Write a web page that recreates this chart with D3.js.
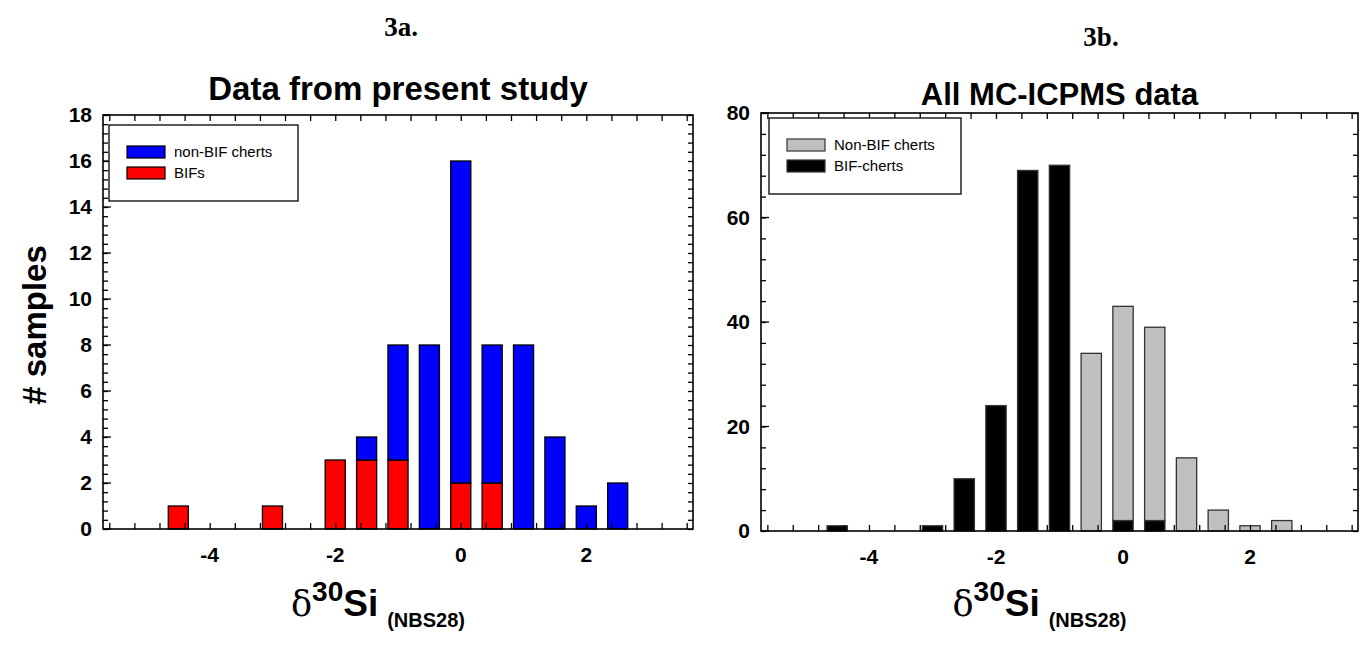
<!DOCTYPE html>
<html>
<head>
<meta charset="utf-8">
<script src="https://cdn.jsdelivr.net/npm/d3@7"></script>
<style>
	body { margin: 0; background: #fff; }
	text { font-family: "Liberation Sans", Arial, sans-serif; }
</style>
</head>
<body>
<script>
// bin centres (per mil) shared by both histograms
var binCenters = [-4.5, -3, -2.5, -2, -1.5, -1, -0.5, 0, 0.5, 1, 1.5, 2, 2.5];

// 3a - present study
var bifs = [1, 1, 0, 3, 3, 3, 0, 2, 2, 0, 0, 0, 0];
var nonBifCherts = [0, 0, 0, 0, 1, 5, 8, 14, 6, 8, 4, 1, 2];

// 3b - all MC-ICPMS data
var bifCherts = [1, 1, 10, 24, 69, 70, 0, 2, 2, 0, 0, 0, 0];
var nonBifChertsAll = [0, 0, 0, 0, 0, 0, 34, 41, 37, 14, 4, 1, 2];

var xTickLabels = [-4, -2, 0, 2];
var xDomain = [-5.7, 3.7];

(function() {

	var width = 1372;
	var height = 660;
	var barW = 0.32;

	var svg = d3.select('body')
		.append('svg')
			.attr('width', width)
			.attr('height', height);

	function panel(opt) {

		var x = d3.scaleLinear().domain(xDomain).range([opt.left, opt.right]);
		var y = d3.scaleLinear().domain([0, opt.yMax]).range([opt.bottom, opt.top]);

		var rows = binCenters.map(function(c, i) {
			return { c: c, lower: opt.lower[i], upper: opt.upper[i] };
		});
		var stacked = d3.stack().keys(['lower', 'upper'])(rows);

		var g = svg.append('g');

		stacked.forEach(function(layer, k) {
			g.selectAll(null)
				.data(layer.filter(function(d) { return d[1] > d[0]; }))
				.enter()
				.append('rect')
					.attr('x', function(d) { return x(d.data.c - barW / 2); })
					.attr('y', function(d) { return y(d[1]); })
					.attr('width', function(d) { return x(d.data.c + barW / 2) - x(d.data.c - barW / 2); })
					.attr('height', function(d) { return y(d[0]) - y(d[1]); })
					.style('fill', opt.colors[k])
					.style('stroke', opt.stroke)
					.style('stroke-width', 1.3);
		});

		// ticks, all pointing inward
		var xMinor = d3.range(-5.6, 3.61, 0.4);
		var yMinor = d3.range(0, opt.yMax + 0.001, opt.yMinor);

		var axB = g.append('g').attr('transform', 'translate(0,' + opt.bottom + ')')
			.call(d3.axisBottom(x).tickValues(xMinor).tickSize(-6).tickFormat(''));
		var axT = g.append('g').attr('transform', 'translate(0,' + opt.top + ')')
			.call(d3.axisTop(x).tickValues(xMinor).tickSize(-6).tickFormat(''));
		var axL = g.append('g').attr('transform', 'translate(' + opt.left + ',0)')
			.call(d3.axisLeft(y).tickValues(yMinor).tickSize(-5).tickFormat(''));
		var axR = g.append('g').attr('transform', 'translate(' + opt.right + ',0)')
			.call(d3.axisRight(y).tickValues(yMinor).tickSize(-5).tickFormat(''));

		[axB, axT, axL, axR].forEach(function(a) {
			a.select('.domain').remove();
			a.selectAll('line').style('stroke', '#000').style('stroke-width', 1.3);
		});

		// major y ticks a bit longer
		g.selectAll(null)
			.data(d3.range(0, opt.yMax + 0.001, opt.yStep))
			.enter()
			.append('line')
				.attr('x1', opt.left)
				.attr('x2', opt.left + 8)
				.attr('y1', function(d) { return y(d); })
				.attr('y2', function(d) { return y(d); })
				.style('stroke', '#000')
				.style('stroke-width', 1.3);

		g.append('rect')
			.attr('x', opt.left)
			.attr('y', opt.top)
			.attr('width', opt.right - opt.left)
			.attr('height', opt.bottom - opt.top)
			.style('fill', 'none')
			.style('stroke', '#000')
			.style('stroke-width', 1.6);

		g.selectAll(null)
			.data(d3.range(0, opt.yMax + 0.001, opt.yStep))
			.enter()
			.append('text')
				.attr('x', opt.left - 11)
				.attr('y', function(d) { return y(d) + 7; })
				.attr('text-anchor', 'end')
				.style('font-size', '21px')
				.style('font-weight', 'bold')
				.text(function(d) { return d; });

		g.selectAll(null)
			.data(xTickLabels)
			.enter()
			.append('text')
				.attr('x', function(d) { return x(d); })
				.attr('y', opt.bottom + 33)
				.attr('text-anchor', 'middle')
				.style('font-size', '21px')
				.style('font-weight', 'bold')
				.text(function(d) { return d; });

		// panel title
		g.append('text')
			.attr('x', (opt.left + opt.right) / 2)
			.attr('y', opt.titleY)
			.attr('text-anchor', 'middle')
			.style('font-size', opt.titleSize + 'px')
			.style('font-weight', 'bold')
			.text(opt.title);

		g.append('text')
			.attr('x', opt.labelX)
			.attr('y', opt.labelY)
			.attr('text-anchor', 'middle')
			.style('font-family', '"Liberation Serif", "Times New Roman", serif')
			.style('font-size', '27px')
			.style('font-weight', 'bold')
			.text(opt.label);

		// x axis title
		var xt = g.append('text')
			.attr('x', (opt.left + opt.right) / 2 - 20)
			.attr('y', 616)
			.attr('text-anchor', 'middle')
			.style('font-weight', 'bold');
		xt.append('tspan')
			.style('font-family', '"DejaVu Serif", "Liberation Serif", serif')
			.style('font-weight', 'normal')
			.style('font-size', '35px')
			.text('δ');
		xt.append('tspan')
			.attr('dy', -15)
			.style('font-size', '28px')
			.text('30');
		xt.append('tspan')
			.attr('dy', 15)
			.style('font-size', '37px')
			.text('Si');
		xt.append('tspan')
			.attr('dy', 11)
			.attr('dx', 9)
			.style('font-size', '20px')
			.text('(NBS28)');

		// legend
		var lg = g.append('g').attr('transform', 'translate(' + (opt.left + opt.legendDx) + ',' + (opt.top + opt.legendDy) + ')');
		lg.append('rect')
			.attr('width', opt.legendW)
			.attr('height', 76)
			.style('fill', '#fff')
			.style('stroke', '#000')
			.style('stroke-width', 1.3);
		var items = [
			{ name: opt.names[1], color: opt.colors[1] },
			{ name: opt.names[0], color: opt.colors[0] }
		];
		var it = lg.selectAll(null)
			.data(items)
			.enter()
			.append('g')
				.attr('transform', function(d, i) { return 'translate(18,' + (21 + i * 21) + ')'; });
		it.append('rect')
			.attr('width', 38)
			.attr('height', 12)
			.style('fill', function(d) { return d.color; })
			.style('stroke', opt.stroke)
			.style('stroke-width', 1.2);
		it.append('text')
			.attr('x', 47)
			.attr('y', 11)
			.style('font-size', '15px')
			.text(function(d) { return d.name; });
	}

	panel({
		left: 103, right: 693, top: 115, bottom: 529,
		yMax: 18, yStep: 2, yMinor: 0.4,
		lower: bifs, upper: nonBifCherts,
		colors: ['#ff0000', '#0000ff'],
		stroke: '#000',
		names: ['BIFs', 'non-BIF cherts'],
		title: 'Data from present study', titleY: 100, titleSize: 33,
		label: '3a.', labelX: 401, labelY: 36,
		legendDx: 6, legendDy: 10, legendW: 189
	});

	panel({
		left: 761, right: 1358, top: 113, bottom: 531,
		yMax: 80, yStep: 20, yMinor: 4,
		lower: bifCherts, upper: nonBifChertsAll,
		colors: ['#000000', '#c0c0c0'],
		stroke: '#333',
		names: ['BIF-cherts', 'Non-BIF cherts'],
		title: 'All MC-ICPMS data', titleY: 105, titleSize: 31,
		label: '3b.', labelX: 1101, labelY: 46,
		legendDx: 8, legendDy: 5, legendW: 192
	});

	svg.append('text')
		.attr('transform', 'translate(46,325) rotate(-90)')
		.attr('text-anchor', 'middle')
		.style('font-size', '33px')
		.style('font-weight', 'bold')
		.text('# samples');

})();
</script>
</body>
</html>
